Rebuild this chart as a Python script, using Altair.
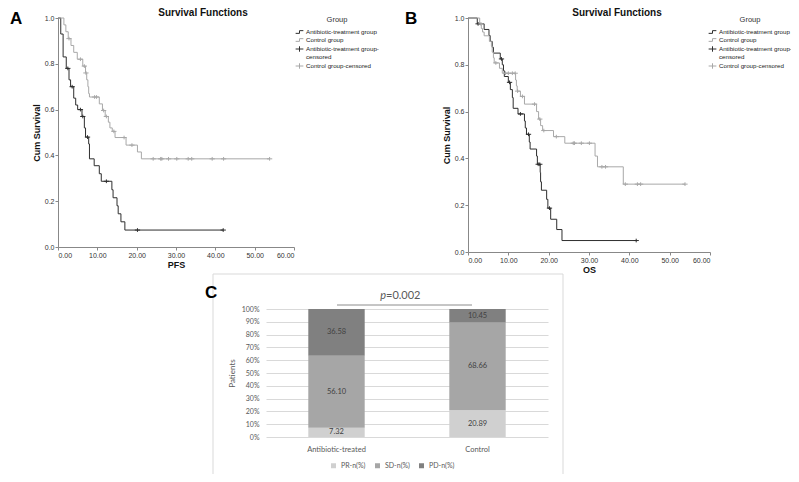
import altair as alt
import pandas as pd

GROUPS = ["Antibiotic-treatment group", "Control group",
          "Antibiotic-treatment group-censored", "Control group-censored"]
DARK = "#2e2e2e"
LIGHT = "#a8a8a8"

# ---------- Panel A (PFS) ----------
A_ab_t = [0, 0.7, 1.3, 2.1, 2.8, 3.2, 4.0, 4.5, 5.0, 6.1, 6.7, 7.0, 7.8, 8.0, 9.2,
          10.5, 11.0, 13.7, 14.0, 15.0, 15.3, 16.0, 17.0, 42.0]
A_ab_s = [1.0, 0.93, 0.83, 0.78, 0.73, 0.70, 0.65, 0.62, 0.60, 0.57, 0.52, 0.48, 0.45,
          0.385, 0.355, 0.32, 0.287, 0.25, 0.215, 0.18, 0.145, 0.11, 0.074, 0.074]
A_ab_c = [2.5, 3.6, 5.7, 6.3, 7.5, 12.3, 20.2, 42.0]

A_ct_t = [0, 1.5, 2.0, 2.6, 3.3, 4.0, 4.9, 6.3, 7.0, 7.3, 7.6, 7.8, 8.0, 10.5, 11.3,
          12.0, 12.8, 13.2, 13.8, 14.5, 17.3, 20.2, 21.2, 53.8]
A_ct_s = [1.0, 0.97, 0.94, 0.91, 0.88, 0.85, 0.82, 0.79, 0.76, 0.73, 0.70, 0.67, 0.655,
          0.625, 0.596, 0.57, 0.545, 0.52, 0.505, 0.478, 0.445, 0.415, 0.385, 0.385]
A_ct_c = [2.8, 5.7, 6.7, 7.1, 9.3, 9.8, 11.6, 12.3, 14.2, 16.8, 18.8, 24.2, 26.1, 26.4,
          28.1, 30.2, 33.1, 34.0, 39.2, 42.1, 53.8]

# ---------- Panel B (OS) ----------
B_ab_t = [0, 2.3, 4.0, 5.2, 5.5, 6.0, 6.3, 8.0, 8.5, 8.8, 9.0, 10.0, 10.5, 11.0, 11.2,
          12.4, 14.0, 14.2, 14.5, 15.2, 15.4, 17.0, 17.2, 17.9, 18.0, 18.2, 19.5, 19.8,
          20.5, 22.0, 23.3, 41.7]
B_ab_s = [1.0, 0.975, 0.951, 0.925, 0.90, 0.875, 0.85, 0.825, 0.80, 0.775, 0.75, 0.725,
          0.694, 0.66, 0.614, 0.59, 0.56, 0.53, 0.503, 0.47, 0.44, 0.41, 0.375, 0.34,
          0.30, 0.264, 0.225, 0.1875, 0.14, 0.096, 0.049, 0.049]
B_ab_c = [2.5, 8.3, 10.3, 13.0, 15.0, 17.4, 17.8, 20.2, 41.7]

B_ct_t = [0, 2.9, 3.3, 3.6, 4.0, 5.3, 5.8, 6.0, 6.3, 6.5, 7.8, 8.5, 11.8, 12.0, 12.2,
          13.0, 14.0, 17.0, 17.5, 18.0, 18.5, 21.2, 24.0, 31.5, 32.1, 38.5, 53.8]
B_ct_s = [1.0, 0.975, 0.955, 0.94, 0.924, 0.90, 0.88, 0.854, 0.83, 0.808, 0.785, 0.764,
          0.735, 0.71, 0.6875, 0.665, 0.632, 0.60, 0.568, 0.54, 0.519, 0.493, 0.465,
          0.41, 0.364, 0.29, 0.29]
B_ct_c = [3.2, 6.9, 9.3, 10.0, 11.0, 11.7, 12.3, 13.5, 16.5, 17.8, 18.8, 21.9, 26.1,
          26.4, 28.1, 30.1, 33.2, 34.1, 39.0, 42.0, 42.8, 53.8]

KM_xticks = [0, 10, 20, 30, 40, 50, 60]
KM_yticks = [0, 0.2, 0.4, 0.6, 0.8, 1.0]

# ---------- Panel C (response) ----------
C_groups = ["Antibiotic-treated", "Control"]
C_cats = ["PR-n(%)", "SD-n(%)", "PD-n(%)"]
C_pr = [7.32, 20.89]
C_sd = [56.10, 68.66]
C_pd = [36.58, 10.45]
C_ticks = list(range(0, 101, 10))
C_colors = ["#d0d0d0", "#a6a6a6", "#808080"]

STEP_PATH = "M-1,0.35L0,0.35L0,-0.35L1,-0.35"
PLUS_PATH = "M-1,0L1,0M0,-0.7L0,0.7"


def surv_at(c, t, s):
    v = s[0]
    for ti, si in zip(t, s):
        if ti <= c:
            v = si
    return v


def km_panel(ab, ct, xlab, w, h, letter, title_x, leg_x):
    rows, crow = [], []
    for g, (t, s, cs) in zip(GROUPS[:2], [ab, ct]):
        for ti, si in zip(t, s):
            rows.append({"time": ti, "surv": si, "grp": g})
        for c in cs:
            crow.append({"time": c, "surv": surv_at(c, t, s), "grp": g + "-censored"})
    ldf = pd.DataFrame(rows)
    cdf = pd.DataFrame(crow)

    leg = alt.Legend(title="Group", orient="none", legendX=leg_x, legendY=-2,
                     titleFontSize=7.5, titleFontWeight="normal", titleColor="#333",
                     titleAnchor="middle", titlePadding=4, labelFontSize=6.2,
                     labelColor="#222", symbolSize=60, symbolStrokeWidth=1,
                     rowPadding=0, labelOffset=2, labelLimit=200,
                     labelExpr="datum.label == 'Antibiotic-treatment group-censored' ? "
                               "['Antibiotic-treatment group-', 'censored'] : datum.label")
    cscale = alt.Scale(domain=GROUPS, range=[DARK, LIGHT, DARK, LIGHT])
    sscale = alt.Scale(domain=GROUPS, range=[STEP_PATH, STEP_PATH, PLUS_PATH, PLUS_PATH])

    xenc = alt.X("time:Q", scale=alt.Scale(domain=[0, 60], nice=False),
                 axis=alt.Axis(values=KM_xticks, tickCount=20, format=".2f",
                               title=xlab, titleFontSize=9, titleFontWeight="bold",
                               titleColor="#111", titlePadding=2, labelFontSize=7,
                               labelColor="#333", labelPadding=1, tickSize=3,
                               tickColor="#888", domainColor="#888", grid=False))
    yenc = alt.Y("surv:Q", scale=alt.Scale(domain=[0, 1], nice=False),
                 axis=alt.Axis(values=KM_yticks, tickCount=20, format=".1f",
                               title="Cum Survival", titleFontSize=9,
                               titleFontWeight="bold", titleColor="#111",
                               titlePadding=3, labelFontSize=7, labelColor="#333",
                               labelPadding=1, tickSize=3, tickColor="#888",
                               domainColor="#888", grid=False))

    lines = alt.Chart(ldf).mark_line(interpolate="step-after", strokeWidth=1).encode(
        x=xenc, y=yenc, color=alt.Color("grp:N", scale=cscale, legend=leg))
    pts = alt.Chart(cdf).mark_point(filled=False, size=28, strokeWidth=1, opacity=1).encode(
        x="time:Q", y="surv:Q",
        color=alt.Color("grp:N", scale=cscale, legend=leg),
        shape=alt.Shape("grp:N", scale=sscale, legend=leg))
    ttl = alt.Chart(pd.DataFrame({"t": ["Survival Functions"]})).mark_text(
        fontSize=10, fontWeight="bold", color="#111", align="center").encode(
        x=alt.value(title_x), y=alt.value(-5), text="t:N")
    let = alt.Chart(pd.DataFrame({"t": [letter]})).mark_text(
        fontSize=17, fontWeight="bold", color="#000", align="left", baseline="alphabetic").encode(
        x=alt.value(-48 if letter == "A" else -63), y=alt.value(6), text="t:N")
    return alt.layer(lines, pts, ttl, let).properties(width=w, height=h)


panelA = km_panel((A_ab_t, A_ab_s, A_ab_c), (A_ct_t, A_ct_s, A_ct_c), "PFS", 236, 229, "A", 145, 237)
panelB = km_panel((B_ab_t, B_ab_s, B_ab_c), (B_ct_t, B_ct_s, B_ct_c), "OS", 242, 234, "B", 149, 240)

# ---------- Panel C chart (cell sits under panel B; its x range reaches left) ----------
bar_df = pd.DataFrame({
    "group": C_groups * 3,
    "cat": [C_cats[0]] * 2 + [C_cats[1]] * 2 + [C_cats[2]] * 2,
    "val": C_pr + C_sd + C_pd,
    "order": [0, 0, 1, 1, 2, 2],
})
base = alt.Chart(bar_df).transform_stack(
    stack="val", groupby=["group"], sort=[alt.SortField("order")], as_=["y0", "y1"])
xC = alt.X("group:N", sort=C_groups,
           scale=alt.Scale(paddingInner=0.6, paddingOuter=0.3, range=[-202, 80]),
           axis=alt.Axis(title=None, labelAngle=0, labelFont="Lato", labelFontSize=7.5,
                         labelColor="#595959", labelPadding=8, ticks=False, domain=False))
yscaleC = alt.Scale(domain=[0, 100], nice=False)
yaxisC = alt.Axis(values=C_ticks, labelExpr="datum.value + '%'", offset=202,
                  labelOverlap=False, tickCount=30,
                  title="Patients", titleFont="Lato", titleFontSize=8,
                  titleFontWeight="normal", titleColor="#595959", titlePadding=5,
                  labelFont="Lato", labelFontSize=7, labelColor="#595959",
                  labelPadding=7, ticks=False, domain=False, grid=True,
                  gridColor="#d9d9d9", gridWidth=1)
bars = base.mark_bar().encode(
    x=xC,
    y=alt.Y("y0:Q", scale=yscaleC, axis=yaxisC),
    y2="y1:Q",
    color=alt.Color("cat:N", scale=alt.Scale(domain=C_cats, range=C_colors),
                    legend=alt.Legend(title=None, orient="none", legendX=-138, legendY=153,
                                      direction="horizontal", symbolType="square",
                                      symbolSize=25, symbolStrokeWidth=0,
                                      labelFont="Lato", labelFontSize=7,
                                      labelColor="#595959", columnPadding=8)),
)
labels = base.transform_calculate(mid="(datum.y0 + datum.y1) / 2").mark_text(
    font="Lato", fontSize=7.5, color="#404040").encode(
    x=xC, y=alt.Y("mid:Q", scale=yscaleC, axis=yaxisC),
    text=alt.Text("val:Q", format=".2f"))
frame = alt.Chart(pd.DataFrame({"v": [0]})).mark_rect(
    fillOpacity=0, stroke="#d9d9d9", strokeWidth=1).encode(
    x=alt.value(-255), x2=alt.value(95), y=alt.value(-35), y2=alt.value(172))
pline = alt.Chart(pd.DataFrame({"v": [0]})).mark_rule(color="#8c8c8c", strokeWidth=1).encode(
    x=alt.value(-131), x2=alt.value(4), y=alt.value(-4))
ptxt = alt.Chart(pd.DataFrame({"t": ["p"]})).mark_text(
    font="Lato", fontSize=11, fontStyle="italic", color="#595959", align="right").encode(
    x=alt.value(-82), y=alt.value(-13), text="t:N")
vtxt = alt.Chart(pd.DataFrame({"t": ["=0.002"]})).mark_text(
    font="Lato", fontSize=11, color="#595959", align="left").encode(
    x=alt.value(-82), y=alt.value(-13), text="t:N")
ctxt = alt.Chart(pd.DataFrame({"t": ["C"]})).mark_text(
    fontSize=17, fontWeight="bold", color="#000", align="left").encode(
    x=alt.value(-263), y=alt.value(-16), text="t:N")
panelC = alt.layer(frame, bars, labels, pline, ptxt, vtxt, ctxt).properties(width=80, height=128)

spacer = alt.Chart(pd.DataFrame({"v": [0]})).mark_point(opacity=0).encode(
    x=alt.value(0), y=alt.value(0)).properties(width=10, height=10)

chart = alt.concat(panelA, panelB, spacer, panelC, columns=2,
                   bounds="flush", spacing={"row": 57, "column": 174}).resolve_scale(
    color="independent", shape="independent").resolve_legend(
    color="independent", shape="independent").properties(
    padding={"left": 50, "top": 10, "right": 733, "bottom": 456},
    autosize=alt.AutoSizeParams(type="none"),
).configure(font="Liberation Sans").configure_view(strokeWidth=0)

chart.save("out.html", embed_options={"renderer": "svg", "actions": False})
